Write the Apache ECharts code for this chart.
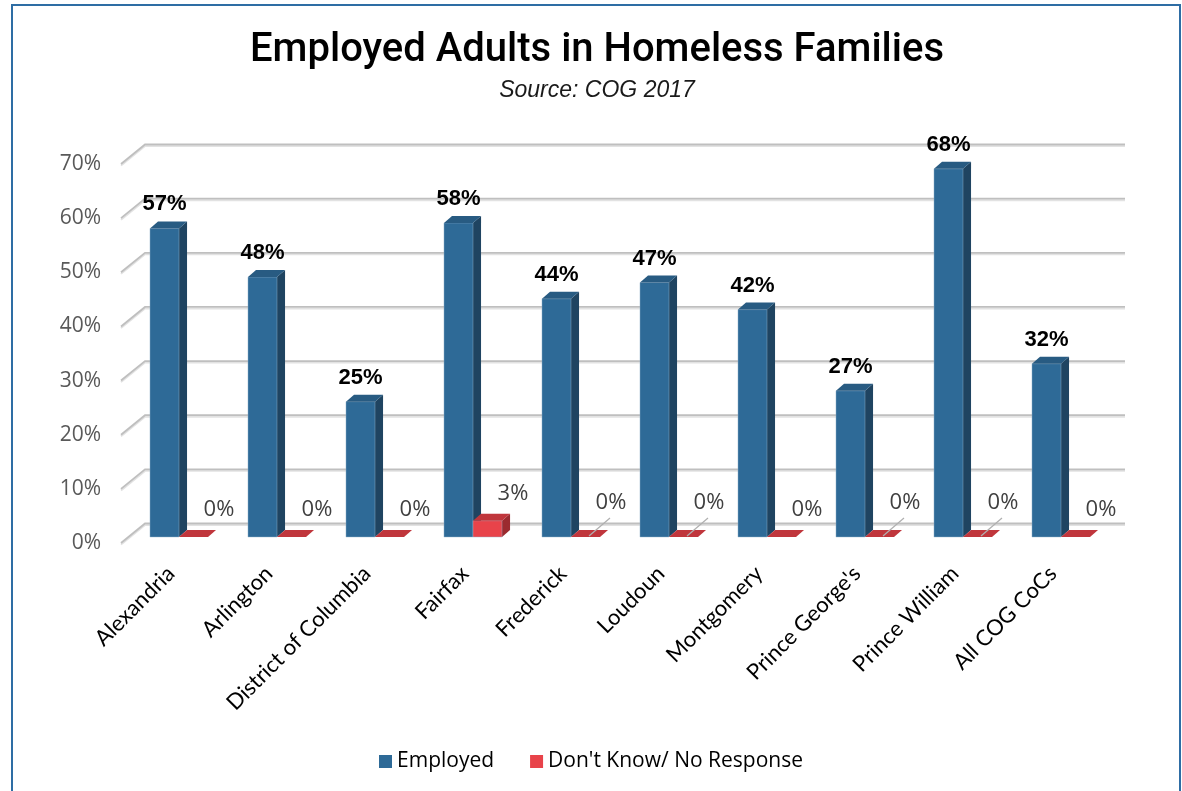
<!DOCTYPE html>
<html>
<head>
<meta charset="utf-8">
<script src="https://cdn.jsdelivr.net/npm/echarts@6/dist/echarts.min.js"></script>
<style>
html,body{margin:0;padding:0;background:#fff;}
#chart{width:1182px;height:791px;}
</style>
</head>
<body>
<div id="chart"></div>
<script>
const categories = ['Alexandria','Arlington','District of Columbia','Fairfax','Frederick','Loudoun','Montgomery',"Prince George's",'Prince William','All COG CoCs'];
const employed = [57,48,25,58,44,47,42,27,68,32];
const dontKnow = [0,0,0,3,0,0,0,0,0,0];
const yTicks = [0,10,20,30,40,50,60,70];
const seriesNames = ['Employed', "Don't Know/ No Response"];

// labels of these categories are lifted with a leader line (as in the original)
const leaderCats = [4,5,7,8];

const chart = echarts.init(document.getElementById('chart'), null, {renderer:'canvas'});

const WALL_DX = 23, WALL_DY = -19.5;
const BAR_DX = 8, BAR_DY = -6;

function gridRender(params, api){
  const cs = params.coordSys;
  const v = api.value(1);
  const y = api.coord([0, v])[1];
  const x0 = cs.x - 1, x1 = cs.x + WALL_DX, x2 = cs.x + cs.width + WALL_DX;
  const yb = y + WALL_DY;
  return {type:'group', children:[
    {type:'polyline', shape:{points:[[x0,y+1.6],[x1,yb+1.6],[x2,yb+1.6]]}, style:{stroke:'#e2e2e2', lineWidth:1.8, fill:null}},
    {type:'polyline', shape:{points:[[x0,y],[x1,yb],[x2,yb]]}, style:{stroke:'#bfbfbf', lineWidth:1.8, fill:null}}
  ]};
}

function barRender(kind){
  const col = kind === 'emp'
    ? {front:'#2e6a97', side:'#1f4461', top:'#285b82'}
    : {front:'#e8434a', side:'#9b2a2f', top:'#c0363c'};
  return function(params, api){
    const i = api.value(0), v = api.value(1);
    const base = api.coord([i, 0]);
    const top = api.coord([i, v]);
    const band = api.size([1, 0])[0];
    const w = band * 0.296;
    const ddx = band * 0.082, ddy = -7;
    const c = base[0] + BAR_DX;
    const xl = kind === 'emp' ? c - w : c;
    const xr = kind === 'emp' ? c : c + w;
    const yb = base[1] + BAR_DY, yt = top[1] + BAR_DY;
    const children = [];
    if (yb - yt > 0.5) {
      children.push({type:'polygon', shape:{points:[[xr,yt],[xr+ddx,yt+ddy],[xr+ddx,yb+ddy],[xr,yb]]}, style:{fill:col.side}});
      children.push({type:'rect', shape:{x:xl, y:yt, width:w, height:yb-yt}, style:{fill:col.front, stroke:'rgba(150,180,205,0.55)', lineWidth:0.8}});
    }
    children.push({type:'polygon', shape:{points:[[xl,yt],[xl+ddx,yt+ddy],[xr+ddx,yt+ddy],[xr,yt]]}, style:{fill:col.top}});
    if (kind === 'emp') {
      children.push({type:'text', style:{text: v + '%', x:(xl+xr)/2, y: yt - 24, align:'center', verticalAlign:'middle', fontSize:22, fontWeight:'bold', fontFamily:'Liberation Sans, Arial, sans-serif', fill:'#000'}});
    } else {
      const lx = c + 40;
      let ly = yt - 27;
      if (leaderCats.indexOf(i) >= 0) {
        ly = yt - 34;
        children.push({type:'line', shape:{x1:c+18, y1:yb-1, x2:c+39, y2:yb-19}, style:{stroke:'#b0b0b0', lineWidth:1.2}});
      }
      children.push({type:'text', style:{text: v + '%', x:lx, y:ly, align:'center', verticalAlign:'middle', fontSize:22, fontFamily:'Open Sans, sans-serif', fill:'#404040'}});
    }
    return {type:'group', children};
  };
}

const option = {
  animation:false,
  backgroundColor:'#fff',
  graphic:[
    {type:'rect', shape:{x:12, y:5, width:1168, height:800}, style:{fill:'none', stroke:'#2e6da4', lineWidth:2}, z:100},
    {type:'text', style:{text:'Employed Adults in Homeless Families', x:597, y:51, align:'center', verticalAlign:'middle', fontSize:40, fontWeight:500, fontFamily:'Roboto, Liberation Sans, sans-serif', fill:'#000'}},
    {type:'text', style:{text:'Source: COG 2017', x:597, y:91, align:'center', verticalAlign:'middle', fontSize:23, fontStyle:'italic', fontFamily:'Liberation Sans, Arial, sans-serif', fill:'#1a1a1a'}}
  ],
  legend:{
    data:seriesNames.map(n => ({name:n, icon:'rect'})),
    left:'center', top:746, itemWidth:13, itemHeight:13, itemGap:36,
    textStyle:{fontSize:21, fontFamily:'Open Sans, sans-serif', color:'#000'},
    selectedMode:false
  },
  grid:{left:122, right:80, top:164, bottom:248, containLabel:false},
  xAxis:{
    type:'category', data:categories,
    axisLine:{show:false}, axisTick:{show:false}, splitLine:{show:false},
    axisLabel:{rotate:45, interval:0, margin:27, fontSize:22, fontFamily:'Lato, sans-serif', color:'#000'}
  },
  yAxis:{
    type:'value', min:0, max:70, interval:10,
    axisLine:{show:false}, axisTick:{show:false}, splitLine:{show:false},
    axisLabel:{formatter:'{value}%', margin:21, fontSize:21, fontFamily:'Open Sans, sans-serif', color:'#595959'}
  },
  series:[
    {type:'custom', name:'_grid', renderItem:gridRender, data:yTicks.map(t => [0, t]), silent:true, z:1, legendHoverLink:false},
    {type:'custom', name:seriesNames[0], renderItem:barRender('emp'), data:employed.map((v,i) => [i, v]), itemStyle:{color:'#2e6a97'}, z:2},
    {type:'custom', name:seriesNames[1], renderItem:barRender('red'), data:dontKnow.map((v,i) => [i, v]), itemStyle:{color:'#e8434a'}, z:3}
  ]
};
chart.setOption(option);
</script>
</body>
</html>
